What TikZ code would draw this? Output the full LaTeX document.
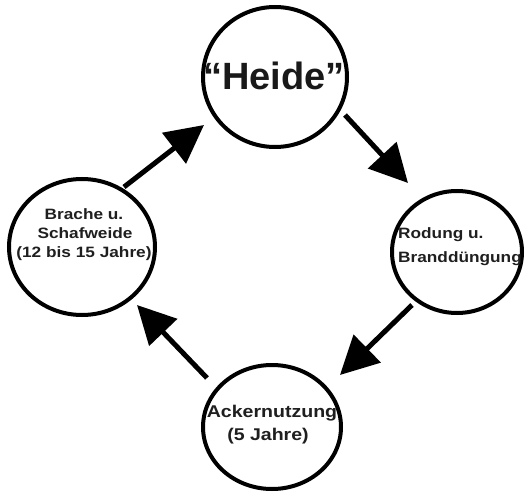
\documentclass[tikz,border=0pt]{standalone}
\usepackage{fontspec}
\setmainfont{Liberation Sans}
\newfontfamily\lblfont[FakeStretch=1.15]{Liberation Sans}
\usetikzlibrary{arrows.meta,shapes.geometric}
\begin{document}
\begin{tikzpicture}[x=1pt,y=-1pt,
  ring/.style={ellipse, draw=black, line width=4pt, inner sep=0pt, fill=white},
  arr/.style={line width=5pt, -{Triangle[length=38pt,width=38pt]}},
  lbl/.style={text=black!88, inner sep=0pt, anchor=base},
  smallA/.style={font={\lblfont\bfseries\fontsize{15}{17}\selectfont}},
  smallB/.style={font={\lblfont\bfseries\fontsize{15}{17}\selectfont}},
  smallC/.style={font={\lblfont\bfseries\fontsize{17}{19}\selectfont}},
  big/.style={font={\bfseries\fontsize{38}{40}\selectfont}, text=black!90}]
\useasboundingbox (0,0) rectangle (525,492);
% circles
\node[ring, minimum width=144pt, minimum height=140pt] (T) at (275,77) {};
\node[ring, minimum width=130pt, minimum height=122pt] (R) at (457,252) {};
\node[ring, minimum width=138pt, minimum height=124pt] (B) at (272,427) {};
\node[ring, minimum width=146pt, minimum height=136pt] (L) at (82,247) {};
% labels
\node[lbl, big] (Tt) at (274,90) {“Heide”};
\node[lbl, smallB, anchor=base west] (Rt1) at (398,238) {Rodung u.};
\node[lbl, smallB, anchor=base west] (Rt2) at (398,262) {Branddüngung};
\node[lbl, smallC] (Bt1) at (272,417) {Ackernutzung};
\node[lbl, smallC] (Bt2) at (268,440) {(5 Jahre)};
\node[lbl, smallA] (Lt1) at (84,219) {Brache u.};
\node[lbl, smallA] (Lt2) at (85,238) {Schafweide};
\node[lbl, smallA] (Lt3) at (84,257) {(12 bis 15 Jahre)};
% arrow end points
\coordinate (a1s) at (124,187); \coordinate (a1e) at (204,125);
\coordinate (a2s) at (345,115); \coordinate (a2e) at (408,183);
\coordinate (a3s) at (412,305); \coordinate (a3e) at (340,375);
\coordinate (a4s) at (207,378); \coordinate (a4e) at (137,305);
\draw[arr] (a1s) -- (a1e);
\draw[arr] (a2s) -- (a2e);
\draw[arr] (a3s) -- (a3e);
\draw[arr] (a4s) -- (a4e);
\end{tikzpicture}
\end{document}
